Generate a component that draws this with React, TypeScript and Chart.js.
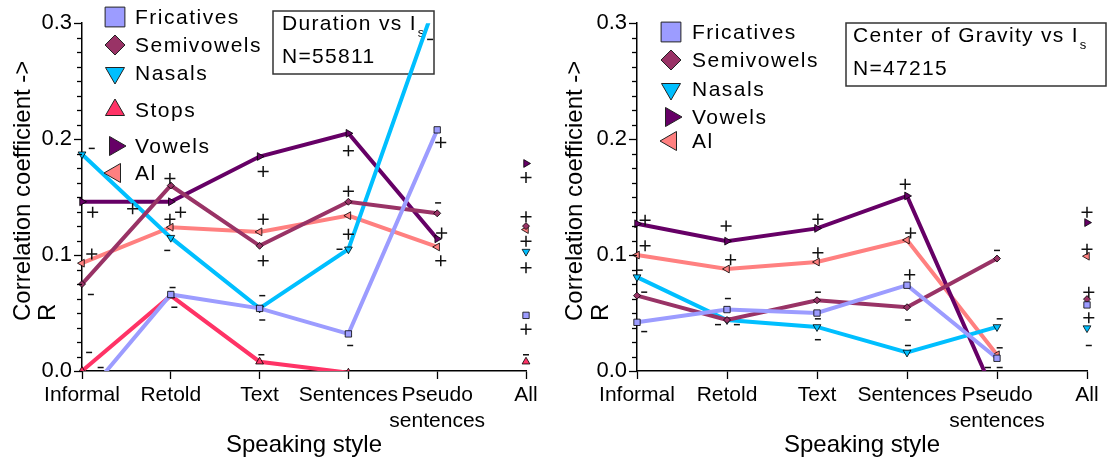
import React, { useEffect, useRef } from 'react';
import { Chart, registerables } from 'chart.js';
import { drawPoint } from 'chart.js/helpers';

Chart.register(...registerables);

const FONT = "'Liberation Sans', Arial, Helvetica, sans-serif";

// ---- categories / ticks ----
const styleLabels: (string | string[])[] = ['Informal', 'Retold', 'Text', 'Sentences', ['Pseudo', 'sentences'], 'All'];
const styleIndex = [0, 1, 2, 3, 4, 5];
const yMin = 0;
const yMax = 0.3;
const yMinorStep = 0.0125;

// ---- left panel: Duration vs Is ----
const durFricatives = [-0.025, 0.066, 0.054, 0.032, 0.208, 0.048];
const durSemivowels = [0.075, 0.16, 0.108, 0.146, 0.136, 0.125];
const durNasals = [0.187, 0.115, 0.054, 0.105, 0.322, 0.103];
const durStops = [0.0, 0.065, 0.008, -0.0015, -0.03, 0.008];
const durVowels = [0.146, 0.146, 0.185, 0.205, 0.114, 0.179];
const durAl = [0.093, 0.124, 0.12, 0.134, 0.107, 0.122];

const durPlusX = [0.12, 0.57, 0.99, 1.11, 0.99, 2.04, 2.04, 2.04, 3.0, 3.0, 3.0, 0.11, 4.04, 4.05, 4.04, 5, 5, 5, 5, 5];
const durPlusY = [0.137, 0.14, 0.166, 0.137, 0.131, 0.172, 0.131, 0.095, 0.19, 0.155, 0.118, 0.101, 0.197, 0.119, 0.095, 0.167, 0.133, 0.112, 0.089, 0.036];
const durMinusX = [0.11, 2.9, 0.96, 0.1, 1.02, 1.04, 2.03, 2.03, 2.02, 3.02, 0.08, 0.21, 4.01, 5.0, 3.92];
const durMinusY = [0.192, 0.105, 0.104, 0.066, 0.072, 0.055, 0.065, 0.044, 0.014, 0.022, 0.016, 0.003, 0.145, 0.014, 0.286];

// ---- right panel: Center of Gravity vs Is ----
const cogFricatives = [0.042, 0.053, 0.05, 0.074, 0.011, 0.057];
const cogSemivowels = [0.065, 0.044, 0.061, 0.055, 0.097, 0.062];
const cogNasals = [0.081, 0.044, 0.038, 0.016, 0.038, 0.037];
const cogVowels = [0.127, 0.112, 0.123, 0.151, -0.025, 0.128];
const cogAl = [0.1, 0.088, 0.094, 0.113, 0.014, 0.099];

const cogPlusX = [0.09, 0.99, 2.01, 0.09, 1.04, 2.01, 2.98, 3.04, 3.03, 5.0, 5.0, 5.02, 5.02];
const cogPlusY = [0.13, 0.125, 0.131, 0.108, 0.096, 0.102, 0.161, 0.119, 0.083, 0.137, 0.105, 0.068, 0.046];
const cogMinusX = [0.03, 0.08, 0.08, 1.01, 0.9, 1.11, 2.01, 2.01, 2.01, 3.01, 3.01, 4.0, 4.03, 4.03, 3.9, 4.03, 5.02];
const cogMinusY = [0.087, 0.068, 0.034, 0.0625, 0.04, 0.04, 0.068, 0.045, 0.027, 0.044, 0.022, 0.104, 0.045, 0.02, 0.003, 0.003, 0.022];

type SeriesStyle = { color: string; pointStyle: string; rotation: number; radius: number; legendRadius: number };
const STYLES: Record<string, SeriesStyle> = {
  Fricatives: { color: '#9c9cff', pointStyle: 'rect', rotation: 0, radius: 4.5, legendRadius: 14 },
  Semivowels: { color: '#993366', pointStyle: 'rectRot', rotation: 0, radius: 3.5, legendRadius: 10 },
  Nasals: { color: '#00bfff', pointStyle: 'triangle', rotation: 180, radius: 4.5, legendRadius: 11 },
  Stops: { color: '#ff3366', pointStyle: 'triangle', rotation: 0, radius: 4.5, legendRadius: 11 },
  Vowels: { color: '#660066', pointStyle: 'triangle', rotation: 90, radius: 4.5, legendRadius: 11 },
  Al: { color: '#ff8080', pointStyle: 'triangle', rotation: 270, radius: 4.5, legendRadius: 11 },
};

type PanelSpec = {
  left: number;
  width: number;
  axisWidth: number;
  padRight: number;
  series: [string, number[]][];
  plusX: number[];
  plusY: number[];
  minusX: number[];
  minusY: number[];
  legendRows: number[];
  legendMarkerX: number;
  legendTextX: number;
  box: { x: number; y: number; w: number; h: number; tx: number; l1: number; l2: number; title: string; n: string };
  yTitleX: [number, number];
  yTitleStart: number;
};

const leftSpec: PanelSpec = {
  left: 0,
  width: 556,
  axisWidth: 82,
  padRight: 30,
  series: [
    ['Fricatives', durFricatives],
    ['Semivowels', durSemivowels],
    ['Nasals', durNasals],
    ['Stops', durStops],
    ['Vowels', durVowels],
    ['Al', durAl],
  ],
  plusX: durPlusX,
  plusY: durPlusY,
  minusX: durMinusX,
  minusY: durMinusY,
  legendRows: [17, 45, 73, 110, 146, 173],
  legendMarkerX: 115,
  legendTextX: 135,
  box: { x: 273, y: 11, w: 161, h: 63, tx: 282, l1: 24, l2: 57, title: 'Duration vs I', n: 'N=55811' },
  yTitleX: [23, 48],
  yTitleStart: 321,
};

const rightSpec: PanelSpec = {
  left: 556,
  width: 552,
  axisWidth: 81,
  padRight: 21,
  series: [
    ['Fricatives', cogFricatives],
    ['Semivowels', cogSemivowels],
    ['Nasals', cogNasals],
    ['Vowels', cogVowels],
    ['Al', cogAl],
  ],
  plusX: cogPlusX,
  plusY: cogPlusY,
  minusX: cogMinusX,
  minusY: cogMinusY,
  legendRows: [32, 60, 89, 117, 141],
  legendMarkerX: 115,
  legendTextX: 136,
  box: { x: 290, y: 23, w: 260, h: 63, tx: 297, l1: 36, l2: 69, title: 'Center of Gravity vs I', n: 'N=47215' },
  yTitleX: [19, 45],
  yTitleStart: 321,
};

function buildConfig(spec: PanelSpec): any {
  const lastIdx = styleIndex.length - 1;
  const lineSets = spec.series.map(([name, values]) => {
    const st = STYLES[name];
    return {
      label: name,
      data: values.map((v, i) => ({ x: styleIndex[i], y: v })),
      borderColor: st.color,
      backgroundColor: st.color,
      borderWidth: 4,
      pointStyle: st.pointStyle,
      pointRotation: st.rotation,
      pointRadius: st.radius,
      pointBackgroundColor: st.color,
      pointBorderColor: '#000',
      pointBorderWidth: 0.8,
      tension: 0,
      clip: { left: 10, top: 0, right: 10, bottom: 0 },
      segment: {
        borderColor: (ctx: any) => (ctx.p1DataIndex === lastIdx ? 'rgba(0,0,0,0)' : undefined),
      },
    };
  });
  const signSet = (xs: number[], ys: number[], plus: boolean) => ({
    label: plus ? '+' : '-',
    data: xs.map((x, i) => ({ x, y: ys[i] })),
    showLine: false,
    pointStyle: plus ? 'cross' : 'line',
    pointRadius: plus ? 5.5 : 3,
    pointBorderColor: '#111',
    pointBackgroundColor: '#111',
    pointBorderWidth: 1.5,
    clip: false,
  });

  const decor = {
    id: 'decor' + spec.left,
    beforeDatasetsDraw(chart: any) {
      const ctx = chart.ctx as CanvasRenderingContext2D;
      const b = spec.box;
      ctx.save();
      ctx.fillStyle = '#fff';
      ctx.fillRect(b.x, b.y, b.w, b.h);
      ctx.strokeStyle = '#333';
      ctx.lineWidth = 1.5;
      ctx.strokeRect(b.x, b.y, b.w, b.h);
      ctx.fillStyle = '#000';
      ctx.font = `21px ${FONT}`;
      (ctx as any).letterSpacing = '1.3px';
      ctx.textAlign = 'left';
      ctx.textBaseline = 'middle';
      ctx.fillText(b.title, b.tx, b.l1);
      const w = ctx.measureText(b.title).width;
      ctx.fillText(b.n, b.tx, b.l2);
      (ctx as any).letterSpacing = '0px';
      ctx.font = `13px ${FONT}`;
      ctx.fillText('s', b.tx + w + 1, b.l1 + 9);
      ctx.restore();
    },
    afterDraw(chart: any) {
      const ctx = chart.ctx as CanvasRenderingContext2D;
      const area = chart.chartArea;
      const ys = chart.scales.y;
      ctx.save();
      // y tick marks: major longer than minor
      ctx.strokeStyle = '#000';
      ctx.lineWidth = 1.3;
      ys.ticks.forEach((t: any) => {
        const py = Math.round(ys.getPixelForValue(t.value)) + 0.5;
        const major = Math.abs(t.value * 10 - Math.round(t.value * 10)) < 1e-6;
        const len = major ? 8 : 5;
        ctx.beginPath();
        ctx.moveTo(area.left - len, py);
        ctx.lineTo(area.left, py);
        ctx.stroke();
      });
      // legend
      ctx.textAlign = 'left';
      ctx.textBaseline = 'middle';
      ctx.font = `21px ${FONT}`;
      (ctx as any).letterSpacing = '1.5px';
      spec.series.forEach(([name], i) => {
        const st = STYLES[name];
        const y = spec.legendRows[i];
        ctx.fillStyle = st.color;
        ctx.strokeStyle = '#222';
        ctx.lineWidth = 1;
        drawPoint(ctx, { pointStyle: st.pointStyle as any, rotation: st.rotation, radius: st.legendRadius, borderWidth: 1 }, spec.legendMarkerX, y);
        ctx.fillStyle = '#000';
        ctx.fillText(name, spec.legendTextX, y + 1);
      });
      (ctx as any).letterSpacing = '0px';
      // y axis title (two lines, start aligned)
      ctx.font = `24px ${FONT}`;
      ctx.fillStyle = '#000';
      ['Correlation coefficient ->', 'R'].forEach((txt, i) => {
        ctx.save();
        ctx.translate(spec.yTitleX[i], spec.yTitleStart);
        ctx.rotate(-Math.PI / 2);
        ctx.textAlign = 'left';
        ctx.textBaseline = 'middle';
        ctx.fillText(txt, 0, 0);
        ctx.restore();
      });
      // x axis title
      ctx.textAlign = 'center';
      ctx.textBaseline = 'middle';
      ctx.fillText('Speaking style', (area.left + area.right) / 2, 445);
      ctx.restore();
    },
  };

  return {
    type: 'line',
    data: {
      datasets: [
        signSet(spec.plusX, spec.plusY, true),
        signSet(spec.minusX, spec.minusY, false),
        ...lineSets,
      ],
    },
    options: {
      responsive: false,
      animation: false,
      events: [],
      devicePixelRatio: 1,
      layout: { padding: { top: 16, left: 0, right: spec.padRight, bottom: 0 } },
      plugins: { legend: { display: false }, tooltip: { enabled: false }, title: { display: false } },
      scales: {
        x: {
          type: 'linear',
          min: styleIndex[0],
          max: styleIndex[styleIndex.length - 1],
          afterFit: (s: any) => {
            s.height = 461 - 371;
          },
          ticks: {
            stepSize: 1,
            autoSkip: false,
            maxRotation: 0,
            padding: 4,
            color: '#000',
            font: { size: 21, family: FONT },
            callback: (v: any) => {
              const i = styleIndex.indexOf(Number(v));
              return i >= 0 ? styleLabels[i] : '';
            },
          },
          grid: { display: true, drawOnChartArea: false, drawTicks: true, tickLength: 8, tickColor: '#000', tickWidth: 1.3, color: '#000' },
          border: { display: true, color: '#000', width: 1.5 },
        },
        y: {
          type: 'linear',
          min: yMin,
          max: yMax,
          afterFit: (s: any) => {
            s.width = spec.axisWidth;
          },
          ticks: {
            stepSize: yMinorStep,
            autoSkip: false,
            padding: 10,
            color: '#000',
            font: { size: 22, family: FONT },
            callback: (v: any) => {
              const n = Number(v);
              return Math.abs(n * 10 - Math.round(n * 10)) < 1e-6 ? n.toFixed(1) : '';
            },
          },
          grid: { display: false, drawTicks: false },
          border: { display: true, color: '#000', width: 1.5 },
        },
      },
    },
    plugins: [decor],
  };
}

function Panel({ spec }: { spec: PanelSpec }) {
  const ref = useRef<HTMLCanvasElement>(null);
  useEffect(() => {
    if (!ref.current) return;
    const chart = new Chart(ref.current, buildConfig(spec));
    return () => chart.destroy();
  }, [spec]);
  return (
    <canvas
      ref={ref}
      width={spec.width}
      height={461}
      style={{ position: 'absolute', left: spec.left, top: 0, width: spec.width, height: 461 }}
    />
  );
}

export default function App() {
  return (
    <div style={{ position: 'fixed', left: 0, top: 0, width: 1108, height: 461, background: '#fff', fontFamily: FONT }}>
      <Panel spec={leftSpec} />
      <Panel spec={rightSpec} />
    </div>
  );
}
